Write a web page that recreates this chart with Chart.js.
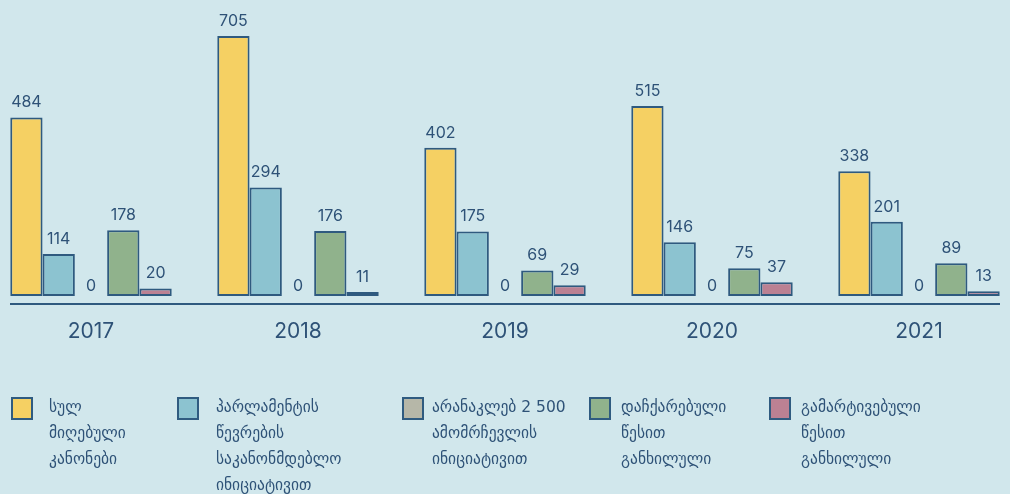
<!DOCTYPE html>
<html>
<head>
<meta charset="utf-8">
<script src="https://cdn.jsdelivr.net/npm/chart.js@4.4.0/dist/chart.umd.min.js"></script>
<style>
    html, body { margin: 0; padding: 0; background: #d1e7ec; }
    #wrap { position: relative; width: 1010px; height: 494px; overflow: hidden; }
    #grafico { position: absolute; left: 0; top: 0; }
    .leg_box { position: absolute; top: 397px; width: 22px; height: 23px; box-sizing: border-box; border: 2px solid #2f5b80; }
    .leg_txt { position: absolute; top: 394px; font-family: "DejaVu Sans", sans-serif; font-size: 15.5px; line-height: 26px; color: #2e5277; white-space: nowrap; }
</style>
</head>
<body>
<div id="wrap">
    <canvas id="grafico" width="1010" height="494"></canvas>
</div>
<script>
let anios = ['2017', '2018', '2019', '2020', '2021']

let total_adoptadas = [484, 705, 402, 515, 338]
let iniciativa_diputados = [114, 294, 175, 146, 201]
let iniciativa_votantes = [0, 0, 0, 0, 0]
let procedimiento_acelerado = [178, 176, 69, 75, 89]
let procedimiento_simplificado = [20, 11, 29, 37, 13]

let nombres = [
    ['სულ', 'მიღებული', 'კანონები'],
    ['პარლამენტის', 'წევრების', 'საკანონმდებლო', 'ინიციატივით'],
    ['არანაკლებ 2 500', 'ამომრჩევლის', 'ინიციატივით'],
    ['დაჩქარებული', 'წესით', 'განხილული'],
    ['გამარტივებული', 'წესით', 'განხილული'],
]

let colores = ['#f5d063', '#8cc3d0', '#b6b7a8', '#90b28c', '#bb8193']
let color_borde = '#2f5a7f'
let color_texto = '#2e5277'

// posiciones de la leyenda (caja, texto)
let leyenda_x = [[11, 49], [177, 216], [402, 432], [589, 621], [769, 801]]

let series = [total_adoptadas, iniciativa_diputados, iniciativa_votantes, procedimiento_acelerado, procedimiento_simplificado]

// etiquetas de valor encima de cada barra
const etiquetas = {
    id: 'etiquetas',
    afterDatasetsDraw(chart) {
        const ctx = chart.ctx
        ctx.save()
        ctx.font = '16px Inter, "Open Sans", sans-serif'
        ctx.fillStyle = color_texto
        ctx.textAlign = 'center'
        ctx.textBaseline = 'middle'
        chart.data.datasets.forEach((ds, i) => {
            chart.getDatasetMeta(i).data.forEach((bar, j) => {
                let y = bar.y - 15
                if (ds.data[j] == 0) y = bar.y - 10
                ctx.fillText(String(ds.data[j]), bar.x, y)
            })
        })
        ctx.restore()
    }
}

// linea base
const linea_base = {
    id: 'linea_base',
    afterDraw(chart) {
        const ctx = chart.ctx
        const y = chart.chartArea.bottom
        ctx.save()
        ctx.strokeStyle = color_borde
        ctx.lineWidth = 2
        ctx.beginPath()
        ctx.moveTo(10, y)
        ctx.lineTo(1000, y)
        ctx.stroke()
        ctx.restore()
    }
}

let datasets = series.map((valores, i) => ({
    label: nombres[i].join(' '),
    data: valores,
    backgroundColor: colores[i],
    borderColor: color_borde,
    borderWidth: i == 2 ? 0 : 2,
    borderSkipped: false,
    clip: false,
}))

var configuracion = {
    type: 'bar',
    data: {
        labels: anios,
        datasets: datasets,
    },
    options: {
        responsive: false,
        animation: false,
        layout: { padding: { left: 91, right: 91, top: 36, bottom: 0 } },
        categoryPercentage: 0.78,
        barPercentage: 1,
        plugins: {
            legend: { display: false },
            tooltip: { enabled: false },
        },
        scales: {
            x: {
                offset: false,
                grid: { display: false, drawTicks: false },
                border: { display: false },
                ticks: {
                    color: color_texto,
                    font: { family: 'Inter, "Open Sans", sans-serif', size: 21 },
                    padding: 15,
                    maxRotation: 0,
                    autoSkip: false,
                },
                afterFit: (scale) => { scale.height = 494 - 304 },
            },
            y: {
                display: false,
                min: -21.7,
                max: 705,
            }
        }
    },
    plugins: [etiquetas, linea_base]
}

var ctx = document.getElementById('grafico').getContext('2d')
var grafico = new Chart(ctx, configuracion)

// leyenda html
let wrap = document.getElementById('wrap')
nombres.forEach((lineas, i) => {
    let caja = document.createElement('div')
    caja.className = 'leg_box'
    caja.style.left = leyenda_x[i][0] + 'px'
    caja.style.background = colores[i]
    wrap.appendChild(caja)
    let txt = document.createElement('div')
    txt.className = 'leg_txt'
    txt.style.left = leyenda_x[i][1] + 'px'
    txt.innerHTML = lineas.join('<br>')
    wrap.appendChild(txt)
})
</script>
</body>
</html>
